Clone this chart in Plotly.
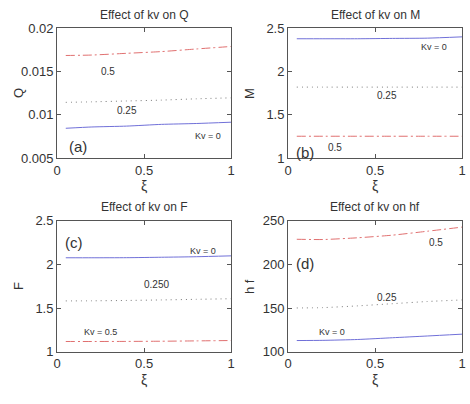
import plotly.graph_objects as go

xi = [0.05, 0.2, 0.4, 0.6, 0.8, 1.0]

# (a) Q
Q_kv0 = [0.00845, 0.0086, 0.0087, 0.0089, 0.0090, 0.00915]
Q_kv025 = [0.01144, 0.0115, 0.0116, 0.0117, 0.01185, 0.01196]
Q_kv05 = [0.01685, 0.0169, 0.0171, 0.0173, 0.0176, 0.01789]
# (b) M
M_kv0 = [2.378, 2.378, 2.378, 2.382, 2.385, 2.40]
M_kv025 = [1.82, 1.82, 1.82, 1.82, 1.82, 1.82]
M_kv05 = [1.253, 1.253, 1.253, 1.253, 1.253, 1.253]
# (c) F
F_kv0 = [2.076, 2.076, 2.077, 2.082, 2.088, 2.098]
F_kv025 = [1.582, 1.583, 1.587, 1.593, 1.600, 1.607]
F_kv05 = [1.117, 1.117, 1.118, 1.120, 1.124, 1.128]
# (d) hf
hf_kv0 = [112.8, 113.0, 114.0, 116.0, 118.0, 120.1]
hf_kv025 = [150.1, 150.5, 152.5, 155.0, 157.5, 159.3]
hf_kv05 = [228.8, 228.5, 230.5, 233.5, 238.0, 242.7]

panels = [
    dict(series=(Q_kv0, Q_kv025, Q_kv05), yrange=[0.005, 0.02], ytick=[0.005, 0.01, 0.015, 0.02],
         yticktext=["0.005", "0.01", "0.015", "0.02"], title="Effect of kv on Q", ylabel="Q",
         labels=[("(a)", 0.12, 0.0063, 15), ("0.5", 0.29, 0.0150, 10), ("0.25", 0.4, 0.0105, 10), ("Kv = 0", 0.87, 0.0076, 9)]),
    dict(series=(M_kv0, M_kv025, M_kv05), yrange=[1, 2.5], ytick=[1, 1.5, 2, 2.5],
         yticktext=["1", "1.5", "2", "2.5"], title="Effect of kv on M", ylabel="M",
         labels=[("(b)", 0.1, 1.06, 15), ("0.5", 0.27, 1.12, 10), ("0.25", 0.57, 1.72, 10), ("Kv = 0", 0.84, 2.28, 9)]),
    dict(series=(F_kv0, F_kv025, F_kv05), yrange=[1, 2.5], ytick=[1, 1.5, 2, 2.5],
         yticktext=["1", "1.5", "2", "2.5"], title="Effect of kv on F", ylabel="F",
         labels=[("(c)", 0.1, 2.25, 15), ("0.250", 0.57, 1.77, 10), ("Kv = 0.5", 0.25, 1.23, 9), ("Kv = 0", 0.84, 2.15, 9)]),
    dict(series=(hf_kv0, hf_kv025, hf_kv05), yrange=[100, 250], ytick=[100, 150, 200, 250],
         yticktext=["100", "150", "200", "250"], title="Effect of kv on hf", ylabel="h f",
         labels=[("(d)", 0.1, 201, 15), ("0.5", 0.85, 225, 10), ("0.25", 0.57, 162, 10), ("Kv = 0", 0.25, 122, 9)]),
]

styles = [
    dict(color="#7070d8", dash="solid", width=1),
    dict(color="#777777", dash="1px,4px", width=1),
    dict(color="#e07070", dash="9px,3px,2px,3px", width=1),
]

W, H = 470, 404
xdoms = [(54 / W, 231 / W), (289 / W, 466 / W)]
ydoms = [(1 - 157 / H, 1 - 22 / H), (1 - 358 / H, 1 - 222 / H)]

fig = go.Figure()
annotations = []
font = "Liberation Sans, Arial, sans-serif"
for i, p in enumerate(panels):
    col, row = i % 2, i // 2
    ax = "" if i == 0 else str(i + 1)
    xa, ya = "x" + ax, "y" + ax
    for s, st in zip(p["series"], styles):
        fig.add_trace(go.Scatter(x=xi, y=s, mode="lines", line=dict(shape="spline", smoothing=0.6, **st),
                                 xaxis=xa, yaxis=ya, showlegend=False, hoverinfo="skip"))
    axcommon = dict(showline=True, mirror="ticks", linecolor="#555555", linewidth=1, ticks="inside",
                    ticklen=4, tickcolor="#555555", showgrid=False, zeroline=False,
                    tickfont=dict(family=font, size=13, color="#333333"))
    fig.update_layout(**{
        "xaxis" + ax: dict(domain=xdoms[col], range=[0, 1], tickvals=[0, 0.5, 1], ticktext=["0", "0.5", "1"],
                           anchor=ya, **axcommon),
        "yaxis" + ax: dict(domain=ydoms[row], range=p["yrange"], tickvals=p["ytick"], ticktext=p["yticktext"],
                           anchor=xa, **axcommon),
    })
    cx = (xdoms[col][0] + xdoms[col][1]) / 2
    top = ydoms[row][1]
    bot = ydoms[row][0]
    common = dict(xref="paper", yref="paper", showarrow=False, xanchor="center", yanchor="middle")
    annotations.append(dict(text=p["title"], x=cx, y=top + 14 / H,
                            font=dict(family=font, size=12, color="#333333"), **common))
    annotations.append(dict(text="ξ", x=cx, y=bot - 29 / H,
                            font=dict(family=font, size=14, color="#333333"), **common))
    annotations.append(dict(text=p["ylabel"], x=xdoms[col][0] - 40 / W, y=(top + bot) / 2, textangle=-90,
                            font=dict(family=font, size=13, color="#333333"), **common))
    for t, lx, ly, fs in p["labels"]:
        annotations.append(dict(text=t, x=lx, y=ly, xref=xa, yref=ya, showarrow=False,
                                xanchor="center", yanchor="middle",
                                font=dict(family=font, size=fs, color="#333333")))

fig.update_layout(width=W, height=H, margin=dict(l=0, r=0, t=0, b=0),
                  paper_bgcolor="white", plot_bgcolor="white", annotations=annotations)
fig.write_html("out.html")
